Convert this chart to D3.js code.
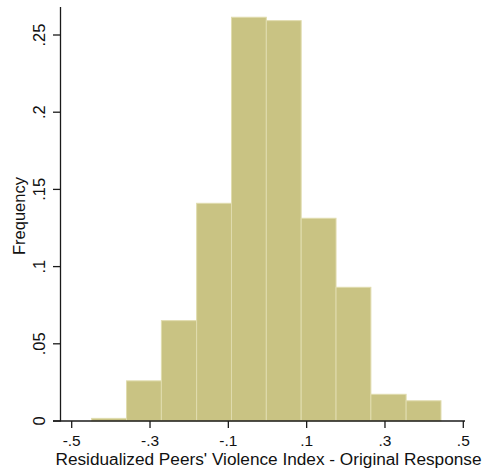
<!DOCTYPE html>
<html>
<head>
<meta charset="utf-8">
<script src="https://cdn.jsdelivr.net/npm/d3@7"></script>
<style>
  body { margin: 0; background: #fff; }
  text { font-family: "Liberation Sans", Arial, sans-serif; }
</style>
</head>
<body>
<div id="main"></div>
<script>
// bin edges (residual values) and frequency per bin
const binEdges = [-0.449, -0.360, -0.271, -0.181, -0.092, -0.003, 0.086, 0.175, 0.264, 0.354, 0.443];
const frequencies = [0.0017, 0.026, 0.065, 0.141, 0.2615, 0.2593, 0.1313, 0.0866, 0.0173, 0.0131];
const xTicks = [-0.5, -0.3, -0.1, 0.1, 0.3, 0.5];
const yTicks = [0, 0.05, 0.1, 0.15, 0.2, 0.25];

const ctx = {
    WIDTH: 483,
    HEIGHT: 472,
};

function fmt(v) {
    // stata style: drop leading zero
    if (v === 0) return "0";
    return String(v).replace("0.", ".");
}

function createViz() {
    const svg = d3.select("#main").append("svg")
        .attr("width", ctx.WIDTH)
        .attr("height", ctx.HEIGHT);

    const x = d3.scaleLinear().domain([-0.5, 0.5]).range([71.7, 463.3]);
    const y = d3.scaleLinear().domain([0, 0.25]).range([421, 35]);

    const bins = frequencies.map((f, i) => ({ x0: binEdges[i], x1: binEdges[i + 1], f: f }));

    // bars
    svg.append("g").selectAll("rect")
        .data(bins)
        .enter()
        .append("rect")
        .attr("x", d => x(d.x0))
        .attr("y", d => y(d.f))
        .attr("width", d => x(d.x1) - x(d.x0))
        .attr("height", d => y(0) - y(d.f))
        .attr("fill", "#c9c383")
        .attr("stroke", "#e0dcae")
        .attr("stroke-width", 1);

    // y axis
    const yAxis = svg.append("g");
    yAxis.append("line")
        .attr("x1", 60.5).attr("x2", 60.5)
        .attr("y1", 7).attr("y2", 421.5)
        .attr("stroke", "#1a1a1a").attr("stroke-width", 1.3);
    yAxis.selectAll(".yt")
        .data(yTicks)
        .enter()
        .append("line")
        .attr("x1", 53).attr("x2", 60.5)
        .attr("y1", d => y(d)).attr("y2", d => y(d))
        .attr("stroke", "#1a1a1a").attr("stroke-width", 1.3);
    yAxis.selectAll("text")
        .data(yTicks)
        .enter()
        .append("text")
        .attr("transform", d => `translate(45,${y(d)}) rotate(-90)`)
        .attr("text-anchor", "middle")
        .attr("font-size", 16.5)
        .attr("fill", "#111")
        .text(d => fmt(d));

    // x axis
    const xAxis = svg.append("g");
    xAxis.append("line")
        .attr("x1", 53).attr("x2", 465)
        .attr("y1", 421).attr("y2", 421)
        .attr("stroke", "#1a1a1a").attr("stroke-width", 1.3);
    xAxis.selectAll(".xt")
        .data(xTicks)
        .enter()
        .append("line")
        .attr("x1", d => x(d)).attr("x2", d => x(d))
        .attr("y1", 421).attr("y2", 428)
        .attr("stroke", "#1a1a1a").attr("stroke-width", 1.3);
    xAxis.selectAll("text")
        .data(xTicks)
        .enter()
        .append("text")
        .attr("x", d => x(d))
        .attr("y", 446)
        .attr("text-anchor", "middle")
        .attr("font-size", 15.5)
        .attr("fill", "#111")
        .text(d => fmt(d));

    // titles
    svg.append("text")
        .attr("x", 268.5)
        .attr("y", 465)
        .attr("text-anchor", "middle")
        .attr("font-size", 16)
        .attr("textLength", 426)
        .attr("lengthAdjust", "spacingAndGlyphs")
        .attr("fill", "#111")
        .text("Residualized Peers' Violence Index - Original Response");

    svg.append("text")
        .attr("transform", "translate(25,216) rotate(-90)")
        .attr("text-anchor", "middle")
        .attr("font-size", 16.5)
        .attr("fill", "#111")
        .text("Frequency");
}

createViz();
</script>
</body>
</html>
